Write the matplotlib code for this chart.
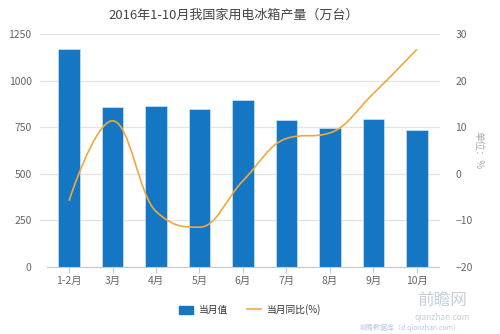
import numpy as np
import matplotlib
matplotlib.use("Agg")
import matplotlib.pyplot as plt
from matplotlib.path import Path
from matplotlib.patches import PathPatch
from matplotlib.lines import Line2D
from matplotlib.patches import Patch

plt.rcParams["font.family"] = ["Noto Sans CJK SC", "DejaVu Sans"]

# data
months = ["1-2月", "3月", "4月", "5月", "6月", "7月", "8月", "9月", "10月"]
output = [1174, 862, 864, 848, 896, 790, 749, 797, 736]
yoy = [-5.8, 11.4, -8.1, -11.5, -1.5, 7.6, 8.8, 17.3, 26.8]

bar_color = "#1577c4"
line_color = "#f2a93b"
text_color = "#666666"
grid_color = "#e3e3e3"


def spline_path(xs, ys, smoothing=1.5):
    # highcharts-like spline through the points
    n = len(xs)
    left = [(xs[i], ys[i]) for i in range(n)]
    right = [(xs[i], ys[i]) for i in range(n)]
    for i in range(1, n - 1):
        px, py = xs[i - 1], ys[i - 1]
        nx, ny = xs[i + 1], ys[i + 1]
        x, y = xs[i], ys[i]
        lcx = (smoothing * x + px) / (smoothing + 1)
        lcy = (smoothing * y + py) / (smoothing + 1)
        rcx = (smoothing * x + nx) / (smoothing + 1)
        rcy = (smoothing * y + ny) / (smoothing + 1)
        corr = (rcy - lcy) * (rcx - x) / (rcx - lcx) + lcy - y
        lcy -= corr
        rcy -= corr
        if lcy > py and lcy > y:
            lcy = max(py, y)
            rcy = 2 * y - lcy
        elif lcy < py and lcy < y:
            lcy = min(py, y)
            rcy = 2 * y - lcy
        if rcy > ny and rcy > y:
            rcy = max(ny, y)
            lcy = 2 * y - rcy
        elif rcy < ny and rcy < y:
            rcy = min(ny, y)
            lcy = 2 * y - rcy
        left[i] = (lcx, lcy)
        right[i] = (rcx, rcy)
    verts = [(xs[0], ys[0])]
    codes = [Path.MOVETO]
    for i in range(1, n):
        verts += [right[i - 1], left[i], (xs[i], ys[i])]
        codes += [Path.CURVE4] * 3
    return Path(verts, codes)


fig = plt.figure(figsize=(5, 3.34), dpi=100)
ax = fig.add_axes([0.08, 0.2015, 0.80, 0.6955])
x = np.arange(len(months))

ax.bar(x, output, width=0.5, color=bar_color, edgecolor="#cfe3f3", linewidth=0.5, zorder=2)
ax.set_ylim(0, 1250)
ax.set_yticks([0, 250, 500, 750, 1000, 1250])
ax.set_xlim(-0.667, 8.53)
ax.set_xticks(x)
ax.set_xticklabels(months)
ax.grid(axis="y", color=grid_color, linewidth=0.9, zorder=0)
ax.set_axisbelow(True)
for s in ["top", "right", "left"]:
    ax.spines[s].set_visible(False)
ax.spines["bottom"].set_color("#c8c8c8")
ax.spines["bottom"].set_bounds(-0.5, 8.5)
ax.tick_params(axis="x", colors="#c8c8c8", length=4, width=0.8, labelcolor=text_color, labelsize=7.5, pad=3)
ax.tick_params(axis="y", length=0, labelcolor=text_color, labelsize=7.5, pad=6)

ax2 = ax.twinx()
ax2.set_ylim(-20, 30)
ax2.set_yticks([-20, -10, 0, 10, 20, 30])
for s in ["top", "right", "left", "bottom"]:
    ax2.spines[s].set_visible(False)
ax2.tick_params(axis="y", length=0, labelcolor=text_color, labelsize=7.5, pad=11)
ax2.add_patch(PathPatch(spline_path(list(x), yoy), facecolor="none",
                        edgecolor=line_color, linewidth=1.2, zorder=3))
ax2.set_ylabel("单位：%", rotation=270, color="#aaaaaa", fontsize=7, labelpad=8)

fig.text(0.467, 0.955, "2016年1-10月我国家用电冰箱产量（万台）", ha="center", va="center",
         fontsize=9.4, color="#444444")

handles = [Patch(facecolor=bar_color, edgecolor=bar_color),
           Line2D([0], [0], color=line_color, linewidth=1.2)]
fig.legend(handles, ["当月值", "当月同比(%)"], loc="center", bbox_to_anchor=(0.5, 0.072),
           ncol=2, frameon=False, fontsize=7, handlelength=1.4, handleheight=1.0,
           columnspacing=2.0, handletextpad=0.6, labelcolor="#333333")

# watermark
fig.text(0.885, 0.1, "前瞻网", ha="center", va="center", fontsize=12, color="#b8c4d0", alpha=0.8)
fig.text(0.885, 0.048, "qianzhan.com", ha="center", va="center", fontsize=6, color="#b8c4d0", alpha=0.8)
fig.text(0.82, 0.018, "前瞻数据库（d.qianzhan.com）", ha="center", va="center", fontsize=5, color="#a8b8d8", alpha=0.8)

fig.savefig("out.png", dpi=100)
